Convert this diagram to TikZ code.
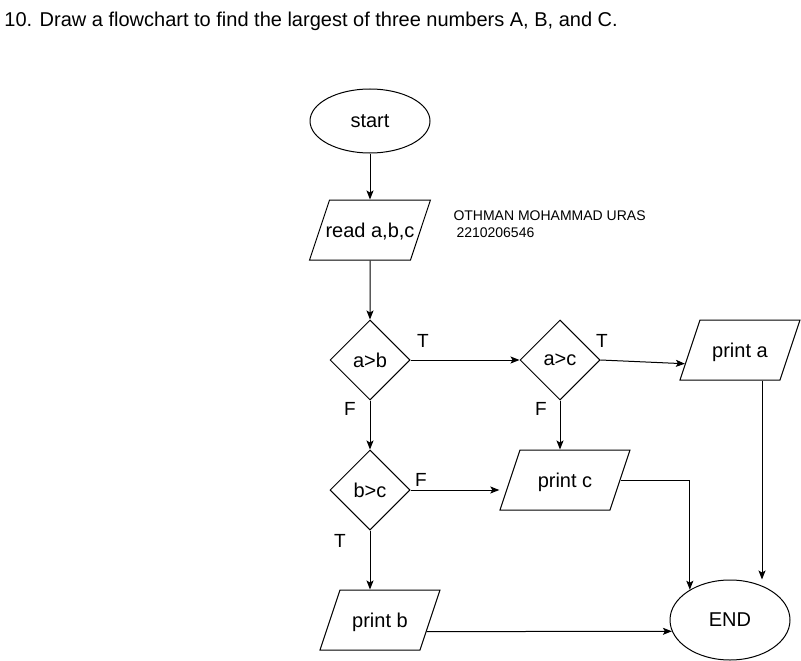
\documentclass[tikz,border=0pt]{standalone}
\usepackage{fontspec}
\setmainfont{Liberation Sans}
\usepackage{tikz}
\usetikzlibrary{shapes.geometric}
\usetikzlibrary{arrows.meta}

\tikzset{
        terminal/.style = {draw, ellipse, minimum width = 120pt, minimum height = 64pt,
            inner sep = 0pt, font = \fontsize{20}{24}\selectfont},
        io/.style = {draw, trapezium, trapezium left angle = 71.57, trapezium right angle = 108.43,
            trapezium stretches body = true, minimum width = 120pt, text height = 14pt,
            text depth = 0pt, inner xsep = 0pt, inner ysep = 23pt,
            font = \fontsize{20}{24}\selectfont},
        decision/.style = {draw, diamond, minimum width = 80pt, minimum height = 80pt,
            inner sep = 0pt, font = \fontsize{20}{24}\selectfont},
        lbl/.style = {inner sep = 0pt, font = \fontsize{19}{23}\selectfont},
        note/.style = {anchor = base west, inner sep = 0pt, font = \fontsize{14}{17}\selectfont}
}

\begin{document}
\begin{tikzpicture}[x = 1pt, y = -1pt, line width = 1pt,
        >={Stealth[length = 9pt, width = 7pt, inset = 2pt]}]
        \useasboundingbox (0, 0) rectangle (801, 661);

        \node[anchor = base west, inner sep = 0pt, font = \fontsize{20}{24}\selectfont] (title)
            at (4, 27) {10. Draw a flowchart to find the largest of three numbers A, B, and C.};

        \node[terminal] (start) at (370, 121) {start};
        \node[io, inner xsep = -4pt] (read) at (370, 230) {read a,b,c};
        \node[note] (name) at (453, 220) {OTHMAN MOHAMMAD URAS};
        \node[note] (id) at (456, 237) {2210206546};
        \node[decision] (ab) at (370, 360) {a>b};
        \node[decision] (ac) at (560, 360) {a>c};
        \node[io] (pa) at (740, 350) {print a};
        \node[decision] (bc) at (370, 490) {b>c};
        \node[io, minimum width = 130pt] (pc) at (565, 480) {print c};
        \node[io] (pb) at (380, 620) {print b};
        \node[terminal, minimum height = 80pt] (finish) at (730, 620) {END};

        \node[lbl] (abT) at (423, 341) {T};
        \node[lbl] (abF) at (350, 409) {F};
        \node[lbl] (acT) at (602, 341) {T};
        \node[lbl] (acF) at (541, 409) {F};
        \node[lbl] (bcF) at (421, 480) {F};
        \node[lbl] (bcT) at (340, 541) {T};

        \draw[->] (start) -- (read);
        \draw[->] (read) -- (ab);
        \draw[->] (ab) -- (ac);
        \draw[->] (ac.east) -- (pa.194);
        \draw[->] (ab) -- (bc);
        \draw[->] (ac) -- (ac |- pc.north);
        \draw[->] (bc) -- (bc -| pc.bottom left corner);
        \draw[->] (bc) -- (bc |- pb.north);
        \draw[->] ([xshift = 22pt]pa.center |- pa.south) -- ([xshift = 22pt]pa.center |- finish.north);
        \draw[->] (pc.right side) -| (finish.143);
        \draw[->] (pb.-14) -- (finish.191);
    \end{tikzpicture}
\end{document}
